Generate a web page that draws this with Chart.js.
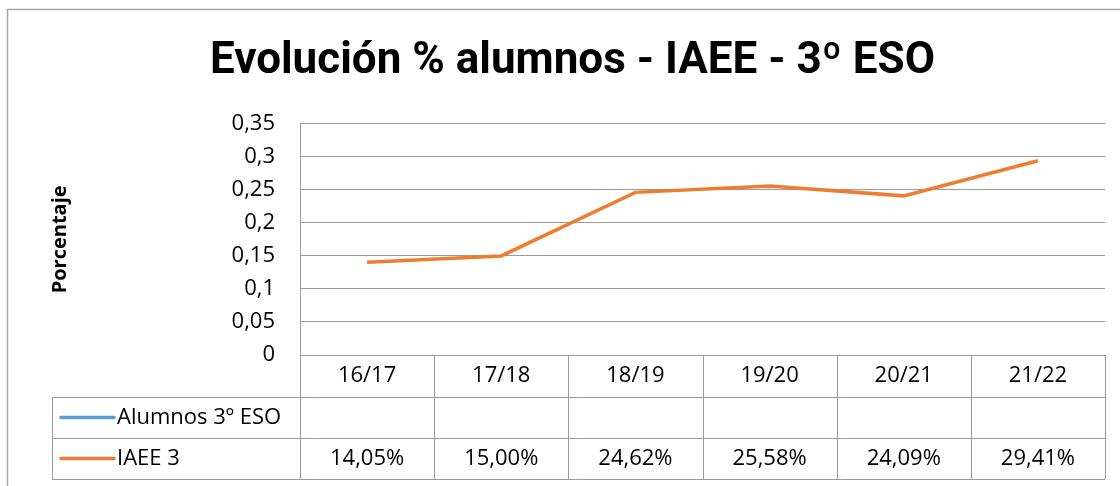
<!DOCTYPE html>
<html>
<head>
<meta charset="utf-8">
<script src="https://cdn.jsdelivr.net/npm/chart.js@4"></script>
<style>
  html, body { margin: 0; padding: 0; background: #fff; }
  #contenedor { width: 1120px; height: 486px; }
</style>
</head>
<body>
<div id="contenedor"><canvas id="grafico" width="1120" height="486"></canvas></div>
<script>
// datos
const cursos = ["16/17", "17/18", "18/19", "19/20", "20/21", "21/22"];
const alumnos3ESO = [null, null, null, null, null, null]; // serie vacia en el original
const iaee3 = [0.1405, 0.15, 0.2462, 0.2558, 0.2409, 0.2941];
const ejeMin = 0;
const ejeMax = 0.35;
const ejePaso = 0.05;

const fuente = "'Open Sans', sans-serif";
const gris = "#9a9a9a";

function formatoPorcentaje(v) {
  if (v === null || v === undefined) return "";
  return (v * 100).toFixed(2).replace(".", ",") + "%";
}

// marco exterior + tabla de datos debajo del eje x
const tablaPlugin = {
  id: "tablaDatos",
  beforeDraw(chart) {
    const ctx = chart.ctx;
    ctx.save();
    ctx.strokeStyle = "#a6a6a6";
    ctx.lineWidth = 1.5;
    ctx.beginPath();
    ctx.moveTo(7.5, chart.height);
    ctx.lineTo(7.5, 9.5);
    ctx.lineTo(chart.width, 9.5);
    ctx.stroke();
    ctx.restore();
  },
  afterDraw(chart) {
    const { ctx, chartArea } = chart;
    const x = chart.scales.x;
    const w = x.getPixelForValue(1) - x.getPixelForValue(0);
    const inicio = x.getPixelForValue(0) - w / 2;
    const fin = x.getPixelForValue(cursos.length - 1) + w / 2;
    const filaCab = chartArea.bottom;
    const fila1 = filaCab + 42;
    const altoFila = 41;
    const colLeyenda = 52;
    const series = chart.data.datasets;
    const abajo = fila1 + altoFila * series.length;

    ctx.save();
    ctx.strokeStyle = gris;
    ctx.lineWidth = 1;
    ctx.beginPath();
    // verticales de las columnas
    for (let i = 0; i <= cursos.length; i++) {
      const px = Math.round(inicio + i * w) + 0.5;
      ctx.moveTo(px, filaCab);
      ctx.lineTo(px, abajo);
    }
    ctx.moveTo(colLeyenda + 0.5, fila1);
    ctx.lineTo(colLeyenda + 0.5, abajo);
    // horizontales
    for (let j = 0; j <= series.length; j++) {
      const py = Math.round(fila1 + j * altoFila) + 0.5;
      ctx.moveTo(colLeyenda, py);
      ctx.lineTo(fin, py);
    }
    ctx.stroke();

    ctx.font = "22px " + fuente;
    ctx.textBaseline = "middle";
    series.forEach((ds, j) => {
      const cy = fila1 + j * altoFila + altoFila / 2;
      ctx.strokeStyle = ds.borderColor;
      ctx.lineWidth = 3.5;
      ctx.lineCap = "round";
      ctx.beginPath();
      ctx.moveTo(61, cy);
      ctx.lineTo(114, cy);
      ctx.stroke();
      ctx.fillStyle = "#000";
      ctx.textAlign = "left";
      ctx.fillText(ds.label, 117, cy);
      ctx.textAlign = "center";
      ds.data.forEach((v, i) => {
        ctx.fillText(formatoPorcentaje(v), x.getPixelForValue(i), cy);
      });
    });
    ctx.restore();
  },
};

const ctx = document.getElementById("grafico").getContext("2d");
const grafico = new Chart(ctx, {
  type: "line",
  data: {
    labels: cursos,
    datasets: [
      {
        label: "Alumnos 3º ESO",
        data: alumnos3ESO,
        borderColor: "#5B9BD5",
        backgroundColor: "#5B9BD5",
        borderWidth: 3.5,
        pointRadius: 0,
      },
      {
        label: "IAEE 3",
        data: iaee3,
        borderColor: "#ED7D31",
        backgroundColor: "#ED7D31",
        borderWidth: 3.5,
        pointRadius: 0,
        tension: 0,
      },
    ],
  },
  options: {
    responsive: false,
    animation: false,
    layout: { padding: { top: 0, left: 40, right: 15, bottom: 0 } },
    plugins: {
      legend: { display: false },
      tooltip: { enabled: false },
      title: {
        display: true,
        text: "Evolución % alumnos - IAEE - 3º ESO",
        color: "#000",
        font: { family: "Roboto, sans-serif", size: 44, weight: "bold", lineHeight: 1.2 },
        padding: { top: 36, bottom: 35 },
      },
    },
    scales: {
      x: {
        offset: true,
        grid: { display: false, drawTicks: false },
        border: { display: true, color: gris },
        ticks: { color: "#000", font: { family: fuente, size: 22 }, padding: 8, maxRotation: 0 },
        afterFit(scale) {
          scale.height = 131;
        },
      },
      y: {
        min: ejeMin,
        max: ejeMax,
        grid: { color: gris, lineWidth: 1, drawTicks: false },
        border: { display: true, color: gris },
        ticks: {
          stepSize: ejePaso,
          color: "#000",
          font: { family: fuente, size: 22 },
          padding: 25,
          callback: (v) => String(Math.round(v * 100) / 100).replace(".", ","),
        },
        title: {
          display: true,
          text: "Porcentaje",
          color: "#000",
          font: { family: fuente, size: 20, weight: "bold", lineHeight: 1.2 },
          padding: { top: 8, bottom: 0 },
        },
        afterFit(scale) {
          scale.width = 260;
        },
      },
    },
  },
  plugins: [tablaPlugin],
});
</script>
</body>
</html>
